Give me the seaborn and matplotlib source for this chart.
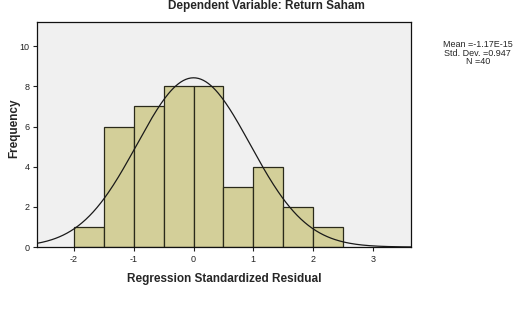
"""Histogram of regression standardized residuals with normal curve."""
import numpy as np
import matplotlib
matplotlib.use('Agg')
import matplotlib.pyplot as plt
import seaborn as sns

# bin edges and counts
bin_edges = [-2.0, -1.5, -1.0, -0.5, 0.0, 0.5, 1.0, 1.5, 2.0, 2.5]
counts = [1, 6, 7, 8, 8, 3, 4, 2, 1]
mean_val = -1.17e-15
std_dev = 0.947
n_obs = 40

x_ticks = [-2, -1, 0, 1, 2, 3]
y_ticks = [0, 2, 4, 6, 8, 10]

sns.set_style('white')
plt.rcParams['font.family'] = ['Liberation Sans', 'DejaVu Sans']
plt.rcParams['axes.unicode_minus'] = False

fig = plt.figure(figsize=(5.17, 3.26), dpi=100)
ax = fig.add_axes([0.0716, 0.2423, 0.7234, 0.690])
ax.set_facecolor('#F0F0F0')

centers = [(a + b) / 2 for a, b in zip(bin_edges[:-1], bin_edges[1:])]
sns.histplot(x=centers, weights=counts, bins=bin_edges, ax=ax,
             color='#D3CF99', alpha=1, edgecolor='#2a2a1a', linewidth=0.9)

# fitted normal curve, scaled to counts
width = bin_edges[1] - bin_edges[0]
xs = np.linspace(-2.62, 3.64, 300)
ys = n_obs * width * np.exp(-0.5 * ((xs - mean_val) / std_dev) ** 2) / (std_dev * np.sqrt(2 * np.pi))
sns.lineplot(x=xs, y=ys, ax=ax, color='#1a1a1a', linewidth=0.9)

ax.set_xlim(-2.62, 3.64)
ax.set_ylim(0, 11.2)
ax.set_xticks(x_ticks)
ax.set_yticks(y_ticks)
ax.tick_params(axis='both', labelsize=6.5, length=3, width=0.8, direction='out',
               bottom=True, left=True, pad=2.5, colors='#222222')
for s in ax.spines.values():
    s.set_color('#111111')
    s.set_linewidth(0.9)

ax.set_xlabel('Regression Standardized Residual', fontsize=8.5, fontweight='bold', labelpad=7)
ax.set_ylabel('Frequency', fontsize=8.5, fontweight='bold', labelpad=3)
ax.yaxis.set_label_coords(-0.045, 0.53)
fig.text(0.515, 0.999, 'Dependent Variable: Return Saham', ha='center', va='top',
         fontsize=8.5, fontweight='bold')
fig.text(0.924, 0.877, f'Mean =-1.17E-15\nStd. Dev. =0.947\nN ={n_obs}',
         ha='center', va='top', fontsize=6.5, linespacing=0.92)

fig.savefig('out.png', dpi=100)
